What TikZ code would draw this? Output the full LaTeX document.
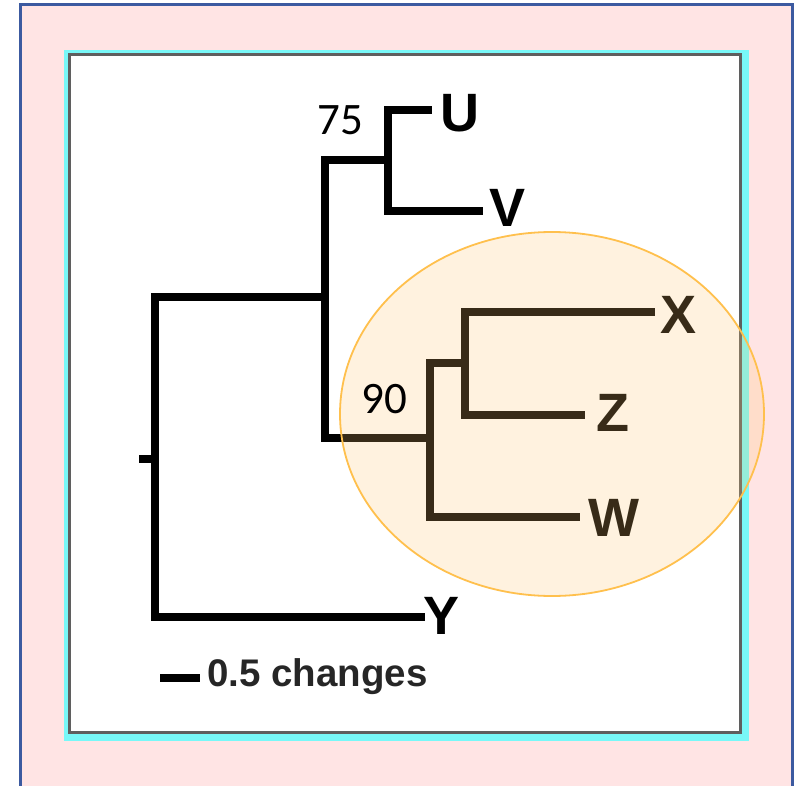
\documentclass[tikz,border=0pt]{standalone}
\usepackage{fontspec}
\setmainfont{Liberation Sans}
\newfontfamily\calib{Carlito}
\definecolor{pinkbg}{RGB}{255,228,228}
\definecolor{blueedge}{RGB}{60,90,160}
\definecolor{cyanedge}{RGB}{120,248,248}
\definecolor{grayedge}{RGB}{95,95,95}
\definecolor{ovfill}{RGB}{255,200,110}
\definecolor{ovline}{RGB}{255,192,77}
\tikzset{
  branch/.style={line width=8.5pt, line join=miter, line cap=butt, black},
  leaf/.style={font=\bfseries\fontsize{54}{54}\selectfont, inner sep=0pt},
  support/.style={font=\calib\fontsize{45}{45}\selectfont, inner sep=0pt},
  scaletext/.style={font=\bfseries\fontsize{38.5}{38.5}\selectfont, inner sep=0pt, anchor=west, text=black!85},
}
\begin{document}
\begin{tikzpicture}[x=1pt,y=-1pt]
\useasboundingbox (0,0) rectangle (800,786);
% backgrounds
\fill[white] (0,0) rectangle (800,786);
\fill[pinkbg] (20,5) rectangle (792,800);
\draw[blueedge, line width=3pt] (20,800) -- (20,5) -- (792,5) -- (792,800);
\fill[cyanedge] (64,50) rectangle (749,741);
\draw[grayedge, line width=3pt, fill=white] (69,55) rectangle (740,732);
% internal nodes
\coordinate (stub) at (139,459);
\coordinate (R) at (155,459);
\coordinate (B) at (325,297);
\coordinate (C) at (388,160);
\coordinate (D) at (430,438);
\coordinate (E) at (465,363);
% leaf ends
\coordinate (tU) at (432,110);
\coordinate (tV) at (483,211);
\coordinate (tY) at (425,617);
\coordinate (tX) at (655,312);
\coordinate (tZ) at (585,415);
\coordinate (tW) at (580,517);
% branches
\draw[branch] (stub) -- (R);
\draw[branch] (R) |- (B);
\draw[branch] (R) |- (tY);
\draw[branch] (B) |- (C);
\draw[branch] (B) |- (D);
\draw[branch] (C) |- (tU);
\draw[branch] (C) |- (tV);
\draw[branch] (D) |- (E);
\draw[branch] (D) |- (tW);
\draw[branch] (E) |- (tX);
\draw[branch] (E) |- (tZ);
% leaf labels
\node[leaf] (U) at (460,113) {U};
\node[leaf] (V) at (508,208) {V};
\node[leaf] (X) at (678,315) {X};
\node[leaf] (Z) at (613,413) {Z};
\node[leaf] (W) at (614,518) {W};
\node[leaf] (Y) at (442,616) {Y};
% scale bar
\coordinate (s1) at (160,678);
\coordinate (s2) at (200,678);
\draw[branch] (s1) -- (s2);
\node[scaletext] (scale) at (207,677) {0.5 changes};
% highlight ellipse
\path[fill=ovfill, fill opacity=0.22] (552,414) ellipse [x radius=212, y radius=182];
\draw[ovline, line width=1.8pt] (552,414) ellipse [x radius=212, y radius=182];
% support values
\node[support] (s75) at (340,120) {75};
\node[support] (s90) at (384,399) {90};
\end{tikzpicture}
\end{document}
